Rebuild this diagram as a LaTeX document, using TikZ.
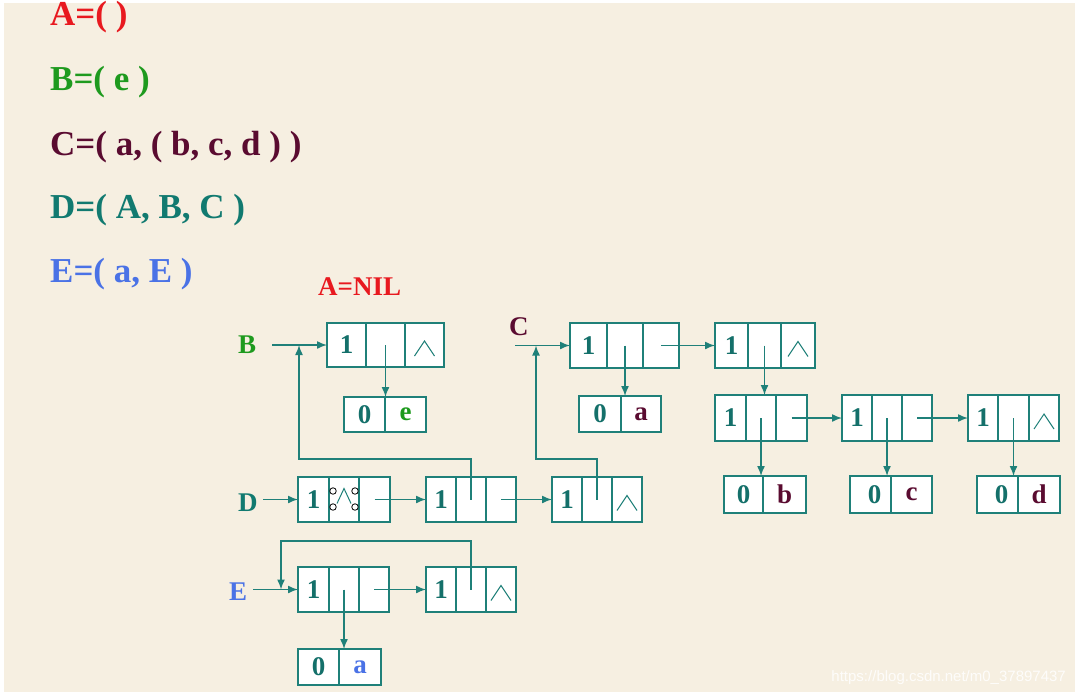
\documentclass[tikz,border=0pt]{standalone}
\usepackage{fontspec}
\setmainfont{Liberation Serif}
\newfontfamily\wmfont{Liberation Sans}
\usetikzlibrary{arrows.meta,calc}
\definecolor{bgc}{HTML}{F6EFE1}
\definecolor{redA}{HTML}{E8191F}
\definecolor{greenB}{HTML}{1E9A1E}
\definecolor{maroonC}{HTML}{5A0B30}
\definecolor{tealD}{HTML}{117A70}
\definecolor{blueE}{HTML}{4A72E6}
\definecolor{linec}{HTML}{1F8079}
\definecolor{digitc}{HTML}{14706A}
\newcommand\myEqFont{\bfseries\fontsize{35}{35}\selectfont}
\newcommand\myLblFont{\bfseries\fontsize{27}{27}\selectfont}
\newcommand\myCellFont{\bfseries\fontsize{27}{27}\selectfont}
\begin{document}
\begin{tikzpicture}[x=1pt,y=-1pt,
  cell/.style={rectangle,draw=linec,fill=white,line width=1.5pt,inner sep=0pt,outer sep=0pt,font=\myCellFont,text=digitc},
  eq/.style={anchor=base west,font=\myEqFont,inner sep=0pt},
  lbl/.style={anchor=base west,font=\myLblFont,inner sep=0pt},
  arr/.style={draw=linec,line width=1.5pt,-{Latex[length=10pt,width=8pt]}},
  wedgemark/.pic={\draw[linec,line width=1pt] (-10,11) -- (0,-4) -- (10,11);},
  dot/.style={circle,draw=black,line width=0.8pt,fill=white,inner sep=0pt,minimum size=6.5pt}
]
\useasboundingbox (0,0) rectangle (1075,693);
\fill[white] (0,0) rectangle (1075,693);
\fill[bgc] (4,3) rectangle (1075,692);

% equations
\node[eq,text=redA] (eqA) at (50,26) {A=( )};
\node[eq,text=greenB] (eqB) at (50,90) {B=( e )};
\node[eq,text=maroonC] (eqC) at (50,155) {C=( a, ( b, c, d ) )};
\node[eq,text=tealD] (eqD) at (50,218) {D=( A, B, C )};
\node[eq,text=blueE] (eqE) at (50,282) {E=( a, E )};

% labels
\node[lbl,text=redA] (anil) at (318,295) {A=NIL};
\node[lbl,text=greenB] (lB) at (238,353) {B};
\node[lbl,text=maroonC] (lC) at (509,335) {C};
\node[lbl,text=tealD] (lD) at (238,511) {D};
\node[lbl,text=blueE] (lE) at (229,600) {E};

% B list
\node[cell,minimum width=39pt,minimum height=44pt] (b1t) at (346.5,345) {1};
\node[cell,minimum width=39pt,minimum height=44pt] (b1h) at (385.5,345) {};
\node[cell,minimum width=39pt,minimum height=44pt] (b1n) at (424.5,345) {};
\node[cell,minimum width=41pt,minimum height=35pt] (be0) at (364.5,414.5) {0};
\node[cell,minimum width=41pt,minimum height=35pt,text=greenB] (bev) at (405.5,414.5) {e};

% C list
\node[cell,minimum width=37pt,minimum height=45pt] (c1t) at (588.5,345.5) {1};
\node[cell,minimum width=36pt,minimum height=45pt] (c1h) at (625,345.5) {};
\node[cell,minimum width=36pt,minimum height=45pt] (c1n) at (661,345.5) {};
\node[cell,minimum width=42pt,minimum height=36pt] (ca0) at (600,414) {0};
\node[cell,minimum width=40pt,minimum height=36pt,text=maroonC] (cav) at (641,414) {a};
\node[cell,minimum width=33pt,minimum height=45pt] (c2t) at (731.5,345.5) {1};
\node[cell,minimum width=33pt,minimum height=45pt] (c2h) at (764.5,345.5) {};
\node[cell,minimum width=34pt,minimum height=45pt] (c2n) at (798,345.5) {};
\node[cell,minimum width=31pt,minimum height=46pt] (c3t) at (730.5,418) {1};
\node[cell,minimum width=30pt,minimum height=46pt] (c3h) at (761,418) {};
\node[cell,minimum width=31pt,minimum height=46pt] (c3n) at (791.5,418) {};
\node[cell,minimum width=30pt,minimum height=46pt] (c4t) at (857,418) {1};
\node[cell,minimum width=30pt,minimum height=46pt] (c4h) at (887,418) {};
\node[cell,minimum width=30pt,minimum height=46pt] (c4n) at (917,418) {};
\node[cell,minimum width=30pt,minimum height=46pt] (c5t) at (983,418) {1};
\node[cell,minimum width=31pt,minimum height=46pt] (c5h) at (1013.5,418) {};
\node[cell,minimum width=30pt,minimum height=46pt] (c5n) at (1044,418) {};
\node[cell,minimum width=39pt,minimum height=37pt] (cb0) at (743.5,494.5) {0};
\node[cell,minimum width=43pt,minimum height=37pt,text=maroonC] (cbv) at (784.5,494.5) {b};
\node[cell,minimum width=41pt,minimum height=37pt] (cc0) at (870.5,494.5) {\hspace{8pt}0};
\node[cell,minimum width=41pt,minimum height=37pt,text=maroonC] (ccv) at (911.5,494.5) {c};
\node[cell,minimum width=41pt,minimum height=37pt] (cd0) at (997.5,494.5) {\hspace{8pt}0};
\node[cell,minimum width=42pt,minimum height=37pt,text=maroonC] (cdv) at (1039,494.5) {d};

% D list
\node[cell,minimum width=31pt,minimum height=45pt] (d1t) at (313.5,499.5) {1};
\node[cell,minimum width=30pt,minimum height=45pt] (d1h) at (344,499.5) {};
\node[cell,minimum width=31pt,minimum height=45pt] (d1n) at (374.5,499.5) {};
\node[cell,minimum width=30pt,minimum height=45pt] (d2t) at (441,499.5) {1};
\node[cell,minimum width=30pt,minimum height=45pt] (d2h) at (471,499.5) {};
\node[cell,minimum width=30pt,minimum height=45pt] (d2n) at (501,499.5) {};
\node[cell,minimum width=30pt,minimum height=45pt] (d3t) at (567,499.5) {1};
\node[cell,minimum width=30pt,minimum height=45pt] (d3h) at (597,499.5) {};
\node[cell,minimum width=30pt,minimum height=45pt] (d3n) at (627,499.5) {};

% E list
\node[cell,minimum width=31pt,minimum height=45pt] (e1t) at (313.5,589.5) {1};
\node[cell,minimum width=30pt,minimum height=45pt] (e1h) at (344,589.5) {};
\node[cell,minimum width=30pt,minimum height=45pt] (e1n) at (374,589.5) {};
\node[cell,minimum width=30pt,minimum height=45pt] (e2t) at (441,589.5) {1};
\node[cell,minimum width=30pt,minimum height=45pt] (e2h) at (471,589.5) {};
\node[cell,minimum width=30pt,minimum height=45pt] (e2n) at (501,589.5) {};
\node[cell,minimum width=41pt,minimum height=36pt] (ea0) at (318.5,667) {0};
\node[cell,minimum width=42pt,minimum height=36pt,text=blueE] (eav) at (360,667) {a};

% nil marks
\pic at (b1n.center) {wedgemark};
\pic at (c2n.center) {wedgemark};
\pic at (c5n.center) {wedgemark};
\pic at (d3n.center) {wedgemark};
\pic at (e2n.center) {wedgemark};
\draw[linec,line width=1pt] ($(d1h.center)+(-7,4)$) -- ($(d1h.center)+(0,-11)$) -- ($(d1h.center)+(7,4)$);
\node[dot] (h1) at ($(d1h.center)+(-11,-8.5)$) {};
\node[dot] (h2) at ($(d1h.center)+(11,-8.5)$) {};
\node[dot] (h3) at ($(d1h.center)+(-11,7.5)$) {};
\node[dot] (h4) at ($(d1h.center)+(11,7.5)$) {};

% connectors
\coordinate (bin) at (272,345);
\draw[arr] (bin) -- (b1t.west);
\draw[arr] (b1h.center) -- (b1h.center |- be0.north);
\coordinate (cin) at (515,345.5);
\draw[arr] (cin) -- (c1t.west);
\draw[arr] (c1n.center) -- (c2t.west);
\draw[arr] (c1h.center) -- (c1h.center |- ca0.north);
\draw[arr] (c2h.center) -- (c2h.center |- c3t.north);
\draw[arr] (c3n.center) -- (c4t.west);
\draw[arr] (c4n.center) -- (c5t.west);
\draw[arr] (c3h.center) -- (c3h.center |- cb0.north);
\draw[arr] (c4h.center) -- (c4h.center |- cc0.north);
\draw[arr] (c5h.center) -- (c5h.center |- cd0.north);
\coordinate (din) at (263,499.5);
\draw[arr] (din) -- (d1t.west);
\draw[arr] (d1n.center) -- (d2t.west);
\draw[arr] (d2n.center) -- (d3t.west);
\coordinate (dbB) at (299,459);
\draw[arr] (d2h.center) |- (dbB) -- (dbB |- bin);
\coordinate (dbC) at (536,459);
\draw[arr] (d3h.center) |- (dbC) -- (dbC |- cin);
\coordinate (ein) at (253,589.5);
\draw[arr] (ein) -- (e1t.west);
\draw[arr] (e1n.center) -- (e2t.west);
\draw[arr] (e1h.center) -- (e1h.center |- ea0.north);
\coordinate (eb) at (281,541);
\draw[arr] (e2h.center) |- (eb) -- (eb |- ein);

% watermark
\node[anchor=base east,inner sep=0pt,text=white,text opacity=0.85,font=\wmfont\fontsize{15}{15}\selectfont] (wm) at (1066,681) {https://blog.csdn.net/m0\_37897437};
\end{tikzpicture}
\end{document}
